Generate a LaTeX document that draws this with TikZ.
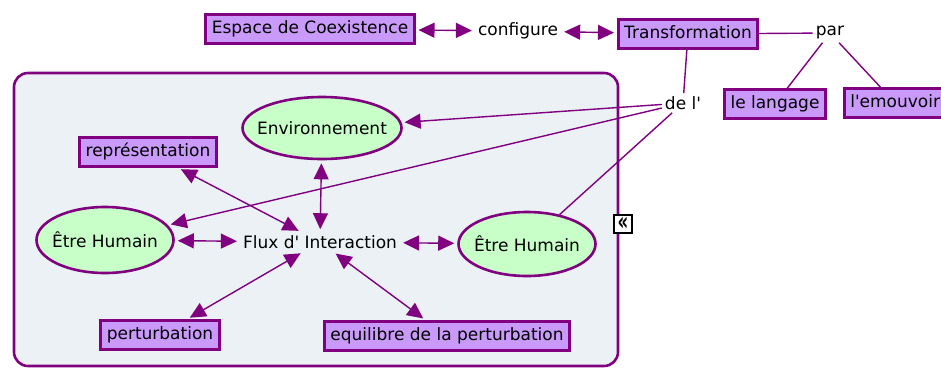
\documentclass[tikz,border=0pt]{standalone}
\usepackage{fontspec}
\setmainfont{DejaVu Sans}[Ligatures=TeXOff]
\usetikzlibrary{arrows.meta,shapes.geometric}
\definecolor{cmpurple}{RGB}{128,0,128}
\definecolor{cmbox}{RGB}{201,154,250}
\definecolor{cmoval}{RGB}{200,255,200}
\definecolor{cmpanel}{RGB}{235,241,244}

\begin{document}
\begin{tikzpicture}[x=1pt,y=-1pt,
  every node/.style={font=\fontsize{17}{20}\selectfont, text=black},
  concept/.style={draw=cmpurple, line width=2.6pt, fill=cmbox, inner xsep=6pt,
    inner ysep=6pt, text height=13pt, text depth=4pt},
  oval/.style={draw=cmpurple, line width=2.6pt, fill=cmoval, ellipse, inner sep=0pt},
  phrase/.style={inner sep=3pt},
  link/.style={draw=cmpurple, line width=1.4pt},
  both/.style={link,
    {Triangle[length=16pt,width=15pt]}-{Triangle[length=16pt,width=15pt]},
    shorten <=3pt, shorten >=3pt},
  toward/.style={link, -{Triangle[length=16pt,width=15pt]}, shorten >=3pt},
]
\useasboundingbox (0,0) rectangle (941,368);

% shaded panel grouping the interaction concepts
\draw[draw=cmpurple, line width=2.6pt, fill=cmpanel, rounded corners=14pt]
  (14,73) rectangle (618,366);

% top row
\node[concept] (espace) at (310,29) {Espace de Coexistence};
\node[phrase] (configure) at (518,31) {configure};
\node[concept] (transf) at (688,34) {Transformation};
\node[phrase] (par) at (830,33) {par};
\node[phrase] (del) at (683,103) {de l'};
\node[concept] (langage) at (775,104) {le langage};
\node[concept, anchor=west] (emouvoir) at (843,103) {l'emouvoir};

% concepts inside the panel
\node[oval, minimum width=159pt, minimum height=62pt] (env) at (322,128) {\makebox[0pt]{Environnement}};
\node[concept] (repr) at (148,152) {représentation};
\node[oval, minimum width=137pt, minimum height=66pt] (hum1) at (105,240) {\makebox[0pt]{Être Humain}};
\node[phrase] (flux) at (320,242) {Flux d' Interaction};
\node[oval, minimum width=137pt, minimum height=64pt] (hum2) at (527,244) {\makebox[0pt]{Être Humain}};
\node[concept] (pert) at (160,335) {perturbation};
\node[concept] (equi) at (447,336) {equilibre de la perturbation};

% collapse marker on the panel edge
\node[draw=black, fill=white, line width=1.2pt, inner sep=0pt, minimum size=18pt,
  font=\fontsize{15}{15}\selectfont\bfseries] (expand) at (623,224) {\scalebox{1.1}[1.7]{«}};

% connectors
\draw[both] (espace) -- (configure);
\draw[both] (configure) -- (transf);
\draw[link] (transf) -- (par);
\draw[link] (par) -- (langage);
\draw[link] (par) -- (emouvoir);
\draw[link] (transf) -- (del);
\draw[toward] (del) -- (env);
\draw[toward] (del) -- (hum1);
\draw[link] (del) -- (hum2);
\draw[both] (env) -- (flux);
\draw[both] (repr) -- (flux);
\draw[both] (hum1) -- (flux);
\draw[both] (flux) -- (hum2);
\draw[both] (flux) -- (pert);
\draw[both] (flux) -- (equi);
\end{tikzpicture}
\end{document}
